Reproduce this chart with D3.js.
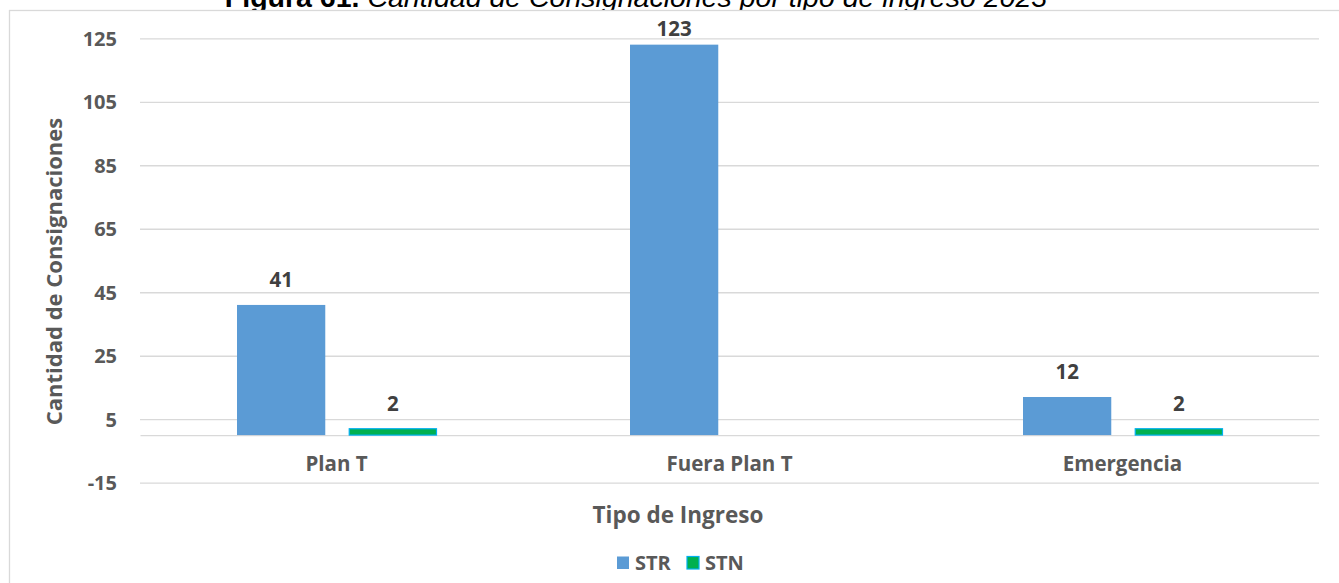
<!DOCTYPE html>
<html>
<head>
<meta charset="utf-8">
<script src="https://cdn.jsdelivr.net/npm/d3@7/dist/d3.min.js"></script>
<style>
  html, body { margin: 0; padding: 0; background: #ffffff; }
  svg { display: block; }
</style>
</head>
<body>
<svg id="chart" width="1339" height="583"></svg>
<script>
// Consignaciones por tipo de ingreso, 2023
const categories = ["Plan T", "Fuera Plan T", "Emergencia"];
const seriesNames = ["STR", "STN"];
const strValues = [41, 123, 12];
const stnValues = [2, null, 2];
const yTicks = [-15, 5, 25, 45, 65, 85, 105, 125];
const yTickLabels = ["-15", "5", "25", "45", "65", "85", "105", "125"];

const seriesColors = { STR: "#5b9bd5", STN: "#00b050" };
const seriesStroke = { STR: "#5b9bd5", STN: "#00b0f0" };
const font = "'Open Sans', 'Noto Sans', sans-serif";

const svg = d3.select("#chart");

// figure caption, sitting behind the chart box
const title = svg.append("text")
  .attr("x", 636).attr("y", 7)
  .attr("text-anchor", "middle")
  .attr("font-family", "'Liberation Sans', Arial, sans-serif")
  .attr("font-size", 28.5)
  .attr("fill", "#000000");
title.append("tspan").attr("font-weight", "bold").text("Figura 61. ");
title.append("tspan").attr("font-style", "italic").text("Cantidad de Consignaciones por tipo de ingreso 2023");

// chart frame
svg.append("rect")
  .attr("x", 9.5).attr("y", 10.5)
  .attr("width", 1400).attr("height", 700)
  .attr("fill", "#ffffff")
  .attr("stroke", "#d9d9d9").attr("stroke-width", 1.3);

const plotLeft = 140, plotRight = 1319;
const y = d3.scaleLinear().domain([-15, 125]).range([482.7, 38.3]);
const x0 = d3.scaleBand().domain(categories).range([plotLeft, plotRight]).padding(0);
const x1 = d3.scaleBand().domain(seriesNames)
  .range([97, x0.bandwidth() - 96]).paddingInner(0.21).paddingOuter(0);

// horizontal gridlines with value labels
const yAxis = d3.axisLeft(y).tickValues(yTicks)
  .tickFormat((d, i) => yTickLabels[i])
  .tickSize(-(plotRight - plotLeft)).tickPadding(23);
const gy = svg.append("g").attr("transform", `translate(${plotLeft},0)`).call(yAxis);
gy.select(".domain").remove();
gy.selectAll(".tick line").attr("stroke", "#d9d9d9").attr("stroke-width", 1.3);
gy.selectAll(".tick text")
  .attr("font-family", font).attr("font-weight", 700).attr("font-size", 20)
  .attr("fill", "#595959").attr("dy", "0.36em");

// category axis along zero
const xAxis = d3.axisBottom(x0).tickSize(0).tickPadding(21);
const gx = svg.append("g").attr("transform", `translate(0,${y(0)})`).call(xAxis);
gx.select(".domain").attr("stroke", "#d9d9d9").attr("stroke-width", 1.3);
gx.selectAll(".tick text")
  .attr("font-family", font).attr("font-weight", 700).attr("font-size", 20.5)
  .attr("fill", "#595959");

// bars
const rows = categories.map((c, i) => ({ cat: c, STR: strValues[i], STN: stnValues[i] }));
const groups = svg.append("g").selectAll("g").data(rows).join("g")
  .attr("transform", d => `translate(${x0(d.cat)},0)`);

const cells = groups.selectAll("g.cell")
  .data(d => seriesNames.map(s => ({ key: s, value: d[s] })).filter(e => e.value != null))
  .join("g").attr("class", "cell");

cells.append("rect")
  .attr("x", d => x1(d.key) + (d.key === "STN" ? 0.5 : 0))
  .attr("width", d => x1.bandwidth() - (d.key === "STN" ? 1 : 0))
  .attr("y", d => y(d.value))
  .attr("height", d => y(0) - y(d.value))
  .attr("fill", d => seriesColors[d.key])
  .attr("stroke", d => d.key === "STN" ? seriesStroke.STN : "none")
  .attr("stroke-width", 1.2);

cells.append("text")
  .attr("x", d => x1(d.key) + x1.bandwidth() / 2)
  .attr("y", d => Math.max(y(d.value) - 18, 36))
  .attr("text-anchor", "middle")
  .attr("font-family", font).attr("font-weight", 700).attr("font-size", 20.5)
  .attr("fill", "#404040")
  .text(d => d.value);

// axis titles
svg.append("text")
  .attr("transform", `translate(62,${(118 + 425) / 2}) rotate(-90)`)
  .attr("text-anchor", "middle")
  .attr("font-family", font).attr("font-weight", 700).attr("font-size", 22)
  .attr("fill", "#595959")
  .text("Cantidad de Consignaciones");

svg.append("text")
  .attr("x", 678).attr("y", 523)
  .attr("text-anchor", "middle")
  .attr("font-family", font).attr("font-weight", 700).attr("font-size", 22.5)
  .attr("fill", "#595959")
  .text("Tipo de Ingreso");

// legend
const legendItems = [
  { key: "STR", sx: 617, tx: 635 },
  { key: "STN", sx: 687, tx: 705 }
];
const lg = svg.append("g").selectAll("g").data(legendItems).join("g");
lg.append("rect")
  .attr("x", d => d.sx).attr("y", 556.5)
  .attr("width", 12).attr("height", 12.5)
  .attr("fill", d => seriesColors[d.key])
  .attr("stroke", d => d.key === "STN" ? seriesStroke.STN : "none")
  .attr("stroke-width", 1.2);
lg.append("text")
  .attr("x", d => d.tx).attr("y", 569.5)
  .attr("font-family", font).attr("font-weight", 700).attr("font-size", 20)
  .attr("fill", "#595959")
  .text(d => d.key);
</script>
</body>
</html>
